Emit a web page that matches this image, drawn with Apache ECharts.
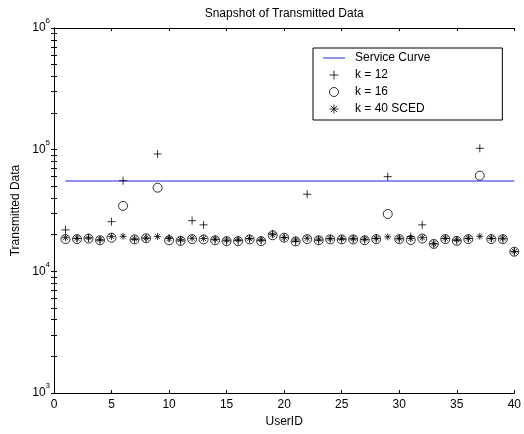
<!DOCTYPE html>
<html>
<head>
<meta charset="utf-8">
<script src="https://cdn.jsdelivr.net/npm/echarts@6/dist/echarts.min.js"></script>
<style>
  html, body { margin: 0; padding: 0; background: #fff; }
  #chart { width: 524px; height: 434px; }
</style>
</head>
<body>
<div id="chart"></div>
<script>
// 数据
const userIds = [1, 2, 3, 4, 5, 6, 7, 8, 9, 10, 11, 12, 13, 14, 15, 16, 17, 18, 19, 20,
  21, 22, 23, 24, 25, 26, 27, 28, 29, 30, 31, 32, 33, 34, 35, 36, 37, 38, 39, 40]
const k12 = [21900, 18600, 18800, 18000, 25600, 55600, 18300, 18700, 92200, 18800,
  17800, 26100, 24100, 18200, 17800, 17900, 18500, 17900, 20300, 18900,
  17600, 43000, 18000, 18500, 18300, 18400, 18200, 18600, 60000, 18500,
  19300, 24100, 16800, 18600, 17900, 18600, 102600, 18600, 18500, 14500]
const k16 = [18400, 18400, 18600, 18000, 18900, 34500, 18300, 18700, 48700, 18000,
  17800, 18400, 18300, 18000, 17700, 17700, 18300, 17700, 19800, 18900,
  17600, 18400, 18000, 18300, 18300, 18300, 18000, 18400, 29600, 18400,
  18100, 18600, 16800, 18400, 17800, 18400, 61100, 18400, 18400, 14500]
const k40 = [18900, 18700, 18800, 18300, 19300, 19400, 18500, 18800, 19300, 18600,
  18300, 18700, 18600, 18400, 18100, 18200, 18600, 18200, 20000, 19000,
  18100, 18700, 18400, 18600, 18600, 18600, 18400, 18700, 19200, 18700,
  18600, 18900, 16900, 18700, 18200, 18700, 19400, 18700, 18700, 14600]
const serviceLevel = 55300
const yTicks = [1000, 2000, 3000, 4000, 5000, 6000, 7000, 8000, 9000,
  10000, 20000, 30000, 40000, 50000, 60000, 70000, 80000, 90000,
  100000, 200000, 300000, 400000, 500000, 600000, 700000, 800000, 900000, 1000000]
const yLabels = [1000, 10000, 100000, 1000000]

const font = 'Liberation Sans, Arial, sans-serif'
const blue = '#6a6af8'
const plusPath = 'path://M0,-4L0,4M-4,0L4,0'
const starPath = 'path://M0,-4L0,4M-4,0L4,0M-2.8,-2.8L2.8,2.8M-2.8,2.8L2.8,-2.8'
const hollow = { color: 'none', borderColor: '#000', borderWidth: 1 }

function pts(arr) {
  return userIds.map((id, i) => [id, arr[i]])
}

const xBase = {
  type: 'value', min: 0, max: 40, interval: 5,
  axisLine: { lineStyle: { color: '#000', width: 1 } },
  axisTick: { inside: true, length: 3, lineStyle: { color: '#000' } },
  splitLine: { show: false },
}
const yBase = {
  type: 'log', logBase: 10, min: 1000, max: 1000000,
  axisLine: { show: true, lineStyle: { color: '#000', width: 1 } },
  axisTick: { inside: true, length: 3, customValues: yTicks, lineStyle: { color: '#000' } },
  minorTick: { show: false },
  splitLine: { show: false },
}

let chart = echarts.init(document.getElementById('chart'))
chart.setOption({
  backgroundColor: '#fff',
  animation: false,
  textStyle: { fontFamily: font },
  grid: { left: 54, right: 9, top: 28, bottom: 41 },
  xAxis: [
    Object.assign({}, xBase, {
      position: 'bottom',
      name: 'UserID', nameLocation: 'middle', nameGap: 23,
      nameTextStyle: { color: '#000', fontSize: 12, fontFamily: font },
      axisLabel: { margin: 6, color: '#000', fontSize: 12, fontFamily: font },
    }),
    Object.assign({}, xBase, {
      position: 'top',
      // 标题放在顶部轴上, 跟绘图区居中
      name: 'Snapshot of Transmitted Data', nameLocation: 'middle', nameGap: 8,
      nameTextStyle: { color: '#000', fontSize: 12, fontFamily: font },
      axisLabel: { show: false },
    }),
  ],
  yAxis: [
    Object.assign({}, yBase, {
      position: 'left',
      name: 'Transmitted Data', nameLocation: 'middle', nameGap: 31,
      nameTextStyle: { color: '#000', fontSize: 12, fontFamily: font },
      axisLabel: {
        margin: 4,
        customValues: yLabels,
        formatter: v => '{b|10}{e|' + Math.round(Math.log10(v)) + '}',
        rich: {
          b: { fontSize: 12, lineHeight: 22, color: '#000', fontFamily: font },
          e: { fontSize: 8, lineHeight: 8, verticalAlign: 'top', color: '#000', fontFamily: font },
        },
      },
    }),
    Object.assign({}, yBase, {
      position: 'right',
      axisLabel: { show: false },
    }),
  ],
  legend: {
    orient: 'vertical',
    left: 313, top: 48,
    padding: [3, 72, 4, 10],
    itemGap: 3,
    itemWidth: 22, itemHeight: 9,
    backgroundColor: '#fff',
    borderColor: '#000', borderWidth: 1, borderRadius: 0,
    textStyle: { color: '#000', fontSize: 12, lineHeight: 14, fontFamily: font, padding: [0, 0, 0, 5] },
    data: [
      // 图例里只画一条线, 不要圆点
      { name: 'Service Curve', icon: 'path://M0,0L22,0L22,1.5L0,1.5Z', itemStyle: { color: blue, borderWidth: 0 } },
      { name: 'k = 12', itemStyle: hollow },
      { name: 'k = 16', itemStyle: hollow },
      { name: 'k = 40 SCED', itemStyle: hollow },
    ],
  },
  series: [
    {
      name: 'Service Curve',
      type: 'line',
      symbol: 'none',
      lineStyle: { color: blue, width: 1.5 },
      itemStyle: { color: blue },
      data: [[userIds[0], serviceLevel], [userIds[userIds.length - 1], serviceLevel]],
      z: 1,
    },
    {
      name: 'k = 12',
      type: 'scatter',
      symbol: plusPath,
      symbolSize: 8,
      itemStyle: hollow,
      data: pts(k12),
      z: 3,
    },
    {
      name: 'k = 16',
      type: 'scatter',
      symbol: 'circle',
      symbolSize: 9,
      itemStyle: hollow,
      data: pts(k16),
      z: 2,
    },
    {
      name: 'k = 40 SCED',
      type: 'scatter',
      symbol: starPath,
      symbolSize: 7,
      itemStyle: hollow,
      data: pts(k40),
      z: 3,
    },
  ],
})
</script>
</body>
</html>
